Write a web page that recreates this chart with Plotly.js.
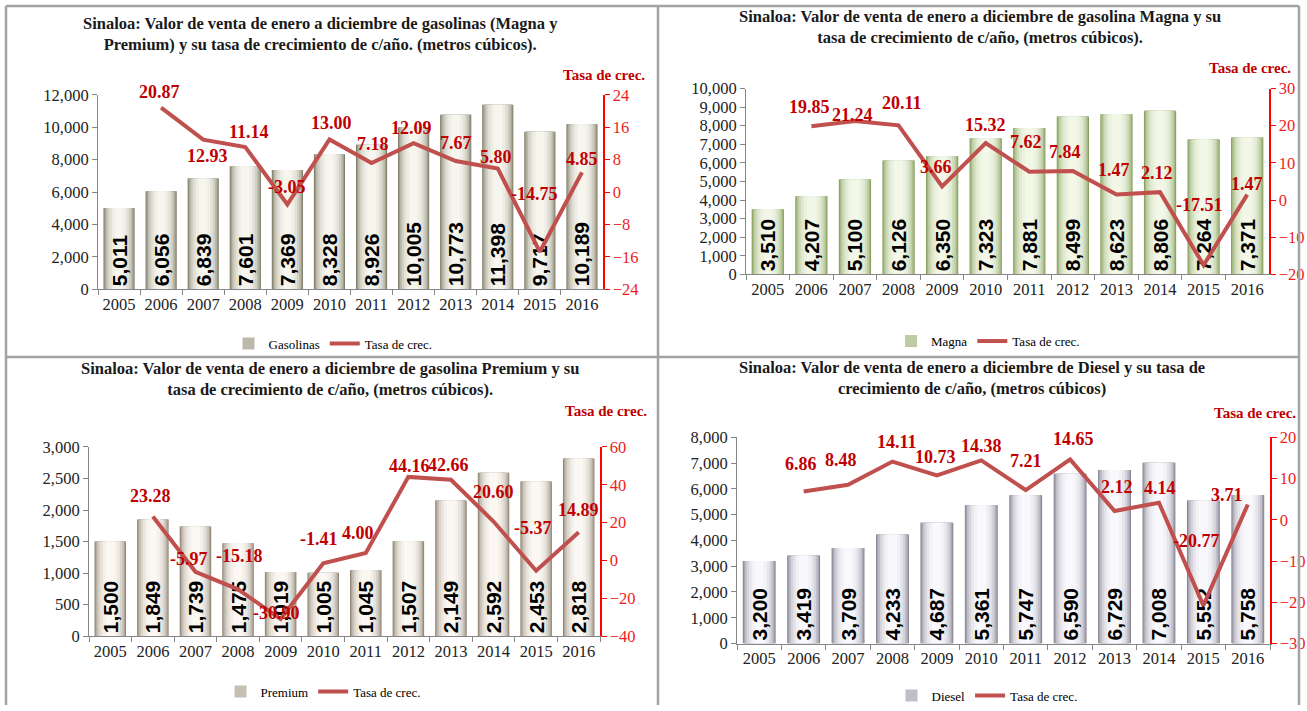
<!DOCTYPE html>
<html>
<head>
<meta charset="utf-8">
<script src="https://cdn.plot.ly/plotly-3.0.1.min.js"></script>
<style>
  html, body { margin: 0; padding: 0; background: #ffffff; }
  #chart { width: 1307px; height: 711px; }
</style>
</head>
<body>
<div id="chart"></div>
<script>
// ---------------- DATA ----------------
const years = ['2005','2006','2007','2008','2009','2010','2011','2012','2013','2014','2015','2016'];

const gasolinas     = [5011, 6056, 6839, 7601, 7369, 8328, 8926, 10005, 10773, 11398, 9717, 10189];
const gasolinasRate = [null, 20.87, 12.93, 11.14, -3.05, 13.00, 7.18, 12.09, 7.67, 5.80, -14.75, 4.85];

const magna     = [3510, 4207, 5100, 6126, 6350, 7323, 7881, 8499, 8623, 8806, 7264, 7371];
const magnaRate = [null, 19.85, 21.24, 20.11, 3.66, 15.32, 7.62, 7.84, 1.47, 2.12, -17.51, 1.47];

const premium     = [1500, 1849, 1739, 1475, 1019, 1005, 1045, 1507, 2149, 2592, 2453, 2818];
const premiumRate = [null, 23.28, -5.97, -15.18, -30.90, -1.41, 4.00, 44.16, 42.66, 20.60, -5.37, 14.89];

const diesel     = [3200, 3419, 3709, 4233, 4687, 5361, 5747, 6590, 6729, 7008, 5552, 5758];
const dieselRate = [null, 6.86, 8.48, 14.11, 10.73, 14.38, 7.21, 14.65, 2.12, 4.14, -20.77, 3.71];

const rateName = 'Tasa de crec.';

// ---------------- LAYOUT HELPERS ----------------
const W = 1307, H = 711;
const px = v => v / W;
const py = v => 1 - v / H;

const SERIF = 'Liberation Serif, Times New Roman, serif';
const SANS = 'Liberation Sans, Arial, sans-serif';
const LINE_COLOR = '#c0504d';
const LABEL_RED = '#c00000';

function hex2rgb(h) { return [1, 3, 5].map(i => parseInt(h.substr(i, 2), 16)); }
function mix(a, b, t) {
  const A = hex2rgb(a), B = hex2rgb(b);
  return 'rgb(' + A.map((v, i) => Math.round(v + (B[i] - v) * t)).join(',') + ')';
}

const panels = [
  {
    bars: gasolinas, rates: gasolinasRate, name: 'Gasolinas',
    title: 'Sinaloa: Valor de venta de enero a diciembre de gasolinas (Magna y<br>Premium) y su tasa de crecimiento de c/año. (metros cúbicos).',
    edge: '#7c7962', center: '#f6f5ee',
    plot: {x0: 98, x1: 603, y0: 95.7, y1: 291.7},
    yMax: 12000, yStep: 2000, rMin: -24, rMax: 24, rStep: 8,
    titlePos: [320, 34], tasaPos: [604, 76], legendPos: [333, 346.5],
    dy: [0, 16, -16, 15, 17, 16, 19, 15, 18, 12, 58, 13],
    dx: [0, -2, 4, 4, 0, 2, 1, -2, 0, -2, -5, 0]
  },
  {
    bars: magna, rates: magnaRate, name: 'Magna',
    title: 'Sinaloa: Valor de venta de enero a diciembre de gasolina Magna y su<br>tasa de crecimiento de c/año, (metros cúbicos).',
    edge: '#839d58', center: '#f2f7e8',
    plot: {x0: 746, x1: 1269, y0: 89.3, y1: 276.7},
    yMax: 10000, yStep: 1000, rMin: -20, rMax: 30, rStep: 10,
    titlePos: [980, 27.5], tasaPos: [1250, 69], legendPos: [988, 344],
    dy: [0, 19, 6, 22, 19, 18, 30, 19, 25, 19, 60, 11],
    dx: [0, -2, -2, 3, -6, 0, -3, -8, -2, -3, -4, 0]
  },
  {
    bars: premium, rates: premiumRate, name: 'Premium',
    title: 'Sinaloa: Valor de venta de enero a diciembre de gasolina Premium y su<br>tasa de crecimiento de c/año, (metros cúbicos).',
    edge: '#8d8170', center: '#fbf8f3',
    plot: {x0: 89, x1: 600, y0: 450.7, y1: 641.7},
    yMax: 3000, yStep: 500, rMin: -40, rMax: 60, rStep: 20,
    titlePos: [330, 382.5], tasaPos: [606, 415], legendPos: [323, 697.5],
    dy: [0, 20, 13, 33, 6, 24, 20, 11, 15, 30, 43, 22],
    dx: [0, -2, -6, 1, -4, -4, -8, 1, -2, 0, -3, 0]
  },
  {
    bars: diesel, rates: dieselRate, name: 'Diesel',
    title: 'Sinaloa: Valor de venta de enero a diciembre de Diesel y su tasa de<br>crecimiento de c/año, (metros cúbicos)',
    edge: '#83808f', center: '#f9f8fc',
    plot: {x0: 737, x1: 1270, y0: 441, y1: 649},
    yMax: 8000, yStep: 1000, rMin: -30, rMax: 20, rStep: 10,
    titlePos: [972, 381.5], tasaPos: [1255, 417], legendPos: [987, 701.5],
    dy: [0, 27, 25, 20, 19, 14, 29, 20, 24, 15, 64, 9],
    dx: [0, -3, -7, 5, -1, 0, 0, 3, 2, 1, -7, -21]
  }
];

// bevel / cylinder effect: stacked overlaid bars of decreasing width
const layerWidths = [0.74, 0.70, 0.64, 0.56, 0.46, 0.34, 0.20];
const layerT      = [0.00, 0.30, 0.52, 0.70, 0.84, 0.94, 1.00];

const traces = [];
const layout = {
  width: W, height: H,
  margin: {l: 0, r: 0, t: 0, b: 0},
  paper_bgcolor: '#ffffff', plot_bgcolor: 'rgba(0,0,0,0)',
  barmode: 'overlay',
  showlegend: true,
  annotations: [],
  shapes: [],
  font: {family: SERIF, color: '#000'}
};

panels.forEach((p, i) => {
  const n = i + 1;
  const xName = n === 1 ? 'x' : 'x' + n;
  const yL = 'y' + (2 * n - 1 === 1 ? '' : (2 * n - 1));
  const yR = 'y' + (2 * n);
  const xKey = n === 1 ? 'xaxis' : 'xaxis' + n;
  const yLKey = 2 * n - 1 === 1 ? 'yaxis' : 'yaxis' + (2 * n - 1);
  const yRKey = 'yaxis' + (2 * n);
  const legKey = n === 1 ? 'legend' : 'legend' + n;

  layerWidths.forEach((w, k) => {
    const last = k === layerWidths.length - 1;
    const t = {
      type: 'bar', x: years, y: p.bars,
      xaxis: xName, yaxis: yL,
      width: w,
      name: p.name,
      legend: legKey,
      showlegend: k === 2,
      marker: {color: mix(p.edge, p.center, layerT[k]), line: {width: 0}},
      hoverinfo: 'skip'
    };
    if (last) {
      t.text = p.bars.map(v => v.toLocaleString('en-US'));
      t.textposition = 'inside';
      t.insidetextanchor = 'start';
      t.textangle = -90;
      t.constraintext = 'none';
      t.textfont = {family: SANS, size: 21, color: '#000', weight: 'bold'};
    }
    traces.push(t);
  });

  traces.push({
    type: 'scatter', mode: 'lines', x: years, y: p.rates,
    xaxis: xName, yaxis: yR,
    name: rateName, legend: legKey,
    line: {color: LINE_COLOR, width: 4},
    hoverinfo: 'skip'
  });

  const pl = p.plot;
  layout[xKey] = {
    type: 'category',
    categoryorder: 'array', categoryarray: years,
    range: [-0.5, years.length - 0.5],
    domain: [px(pl.x0), px(pl.x1)],
    anchor: yL,
    showline: true, linecolor: '#868686', linewidth: 1,
    ticks: 'outside', tickson: 'boundaries', ticklen: 5, tickcolor: '#868686',
    tickfont: {family: SERIF, size: 16.5, color: '#222'},
    tickangle: 0,
    showgrid: false, zeroline: false, fixedrange: true
  };
  layout[yLKey] = {
    domain: [py(pl.y1), py(pl.y0)],
    anchor: xName,
    range: [0, p.yMax], dtick: p.yStep, tick0: 0,
    tickformat: ',d',
    showline: true, linecolor: '#868686', linewidth: 1,
    ticks: 'outside', ticklen: 5, tickcolor: '#868686',
    tickfont: {family: SERIF, size: 16.5, color: '#222'},
    showgrid: false, zeroline: false, fixedrange: true
  };
  layout[yRKey] = {
    overlaying: yL, side: 'right', anchor: xName,
    range: [p.rMin, p.rMax], dtick: p.rStep, tick0: p.rMin,
    showline: true, linecolor: '#ff0000', linewidth: 1.5,
    ticks: 'outside', ticklen: 5, tickcolor: '#ff0000',
    tickfont: {family: SERIF, size: 16.5, color: '#ee1c1c'},
    showgrid: false, zeroline: false, fixedrange: true
  };
  layout[legKey] = {
    orientation: 'h',
    x: px(p.legendPos[0]), xanchor: 'center',
    y: py(p.legendPos[1]), yanchor: 'middle',
    font: {family: SERIF, size: 13, color: '#000'},
    bgcolor: 'rgba(0,0,0,0)',
    itemwidth: 30,
    tracegroupgap: 0
  };

  layout.annotations.push({
    xref: 'paper', yref: 'paper',
    x: px(p.titlePos[0]), y: py(p.titlePos[1]),
    xanchor: 'center', yanchor: 'middle',
    text: '<b>' + p.title + '</b>',
    showarrow: false, align: 'center',
    font: {family: SERIF, size: 16.5, color: '#1a1a1a'}
  });
  layout.annotations.push({
    xref: 'paper', yref: 'paper',
    x: px(p.tasaPos[0]), y: py(p.tasaPos[1]),
    xanchor: 'center', yanchor: 'middle',
    text: '<b>' + rateName + '</b>',
    showarrow: false,
    font: {family: SERIF, size: 15, color: LABEL_RED}
  });

  p.rates.forEach((v, j) => {
    if (v === null) return;
    layout.annotations.push({
      xref: xName, yref: yR,
      x: j, y: v,
      xanchor: 'center', yanchor: 'middle',
      xshift: p.dx[j], yshift: p.dy[j],
      text: '<b>' + v.toFixed(2) + '</b>',
      showarrow: false,
      font: {family: SERIF, size: 18, color: LABEL_RED}
    });
  });
});

const frameColor = '#a3a3a3';
const hLine = (y, x0, x1) => ({type: 'line', xref: 'paper', yref: 'paper',
  x0: px(x0), x1: px(x1), y0: py(y), y1: py(y), line: {color: frameColor, width: 2.5}});
const vLine = (x, y0, y1) => ({type: 'line', xref: 'paper', yref: 'paper',
  x0: px(x), x1: px(x), y0: py(y0), y1: py(y1), line: {color: frameColor, width: 2.5}});
layout.shapes.push(hLine(6, 6, 1299), hLine(360, 6, 1299),
  vLine(6, 6, 711), vLine(658, 6, 711), vLine(1299, 6, 711));

Plotly.newPlot('chart', traces, layout, {displayModeBar: false, staticPlot: true});
</script>
</body>
</html>
